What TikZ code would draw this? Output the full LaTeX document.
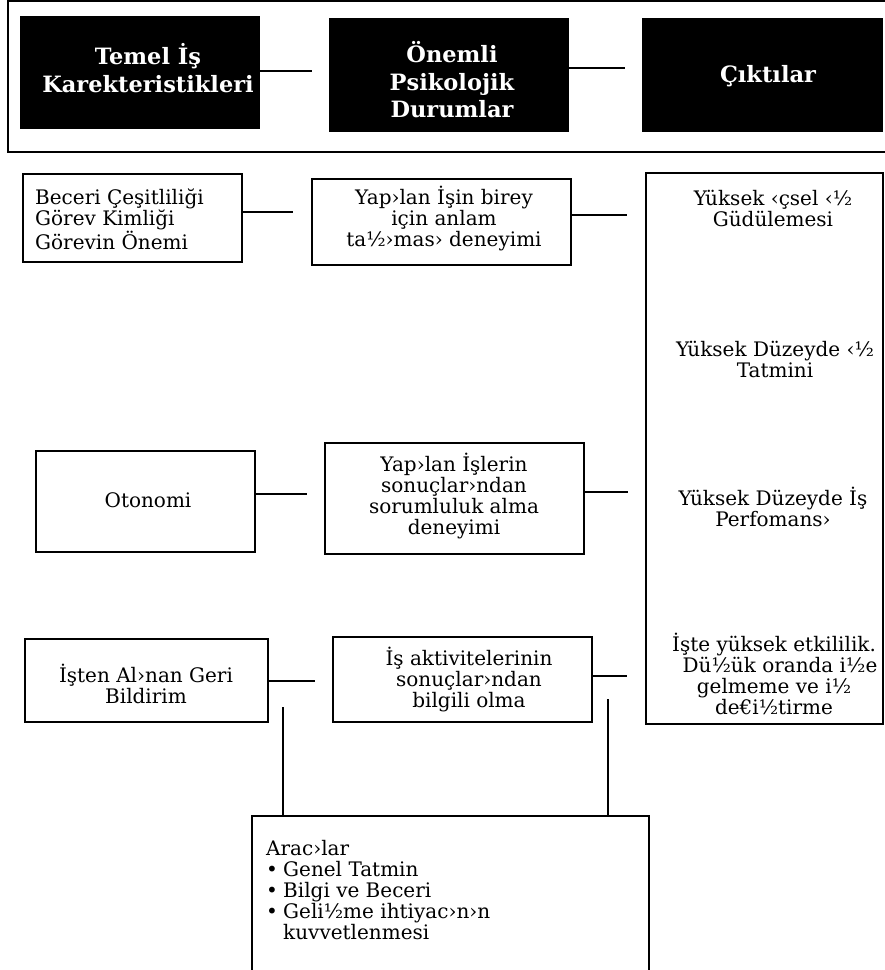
\documentclass[tikz,border=0pt]{standalone}
\usepackage{fontspec}
\setmainfont{DejaVu Serif}
\begin{document}
\begin{tikzpicture}[x=1pt,y=-1pt,
  bx/.style={draw,line width=2.5pt,inner sep=0pt},
  hbx/.style={fill=black,draw=none,inner sep=0pt},
  htxt/.style={text=white,align=center,inner sep=0pt,font=\fontsize{22.5}{27.5}\selectfont\bfseries},
  txt/.style={align=center,inner sep=0pt,font=\fontsize{20}{21}\selectfont},
  ltxt/.style={align=left,inner sep=0pt,font=\fontsize{20}{21}\selectfont},
  conn/.style={line width=2.2pt}]
\useasboundingbox (0,0) rectangle (885,970);
% header frame
\draw[line width=2.2pt] (900,1) -- (8,1) -- (8,152) -- (900,152);
% header boxes
\node[hbx,minimum width=240pt,minimum height=113pt] (h1) at (140,72.5) {};
\node[hbx,minimum width=240pt,minimum height=114pt] (h2) at (449,75) {};
\node[hbx,minimum width=241pt,minimum height=114pt] (h3) at (762.5,75) {};
\node[htxt] (t1) at (148,68) {Temel İş\\Karekteristikleri};
\node[htxt] (t2) at (452,80) {Önemli\\Psikolojik\\Durumlar};
\node[htxt] (t3) at (768,76) {Çıktılar};
\coordinate (e1) at (312,71);
\coordinate (e2) at (625,68);
\draw[conn] (h1.east |- e1) -- (e1);
\draw[conn] (h2.east |- e2) -- (e2);
% boxes
\node[bx,minimum width=219pt,minimum height=88pt] (A) at (132.5,218) {};
\node[bx,minimum width=259pt,minimum height=86pt] (B) at (441.5,222) {};
\node[bx,minimum width=237pt,minimum height=551pt] (R) at (764.5,448.5) {};
\node[bx,minimum width=219pt,minimum height=101pt] (O) at (145.5,501.5) {};
\node[bx,minimum width=259pt,minimum height=111pt] (M2) at (454.5,498.5) {};
\node[bx,minimum width=243pt,minimum height=83pt] (F) at (146.5,680.5) {};
\node[bx,minimum width=259pt,minimum height=85pt] (M3) at (462.5,679.5) {};
\node[bx,minimum width=397pt,minimum height=184pt] (Bot) at (450.5,908) {};
% texts
\node[ltxt,anchor=west] (tA) at (35,219) {Beceri Çeşitliliği\\Görev Kimliği\\Görevin Önemi};
\node[txt] (tB) at (444,219) {Yap›lan İşin birey\\için anlam\\ta½›mas› deneyimi};
\node[txt] (r1) at (773,208) {Yüksek ‹çsel ‹½\\Güdülemesi};
\node[txt] (r2) at (775,359) {Yüksek Düzeyde ‹½\\Tatmini};
\node[txt] (r3) at (773,507) {Yüksek Düzeyde İş\\Perfomans›};
\node[txt] (r4) at (774,674) {İşte yüksek etkililik.\\\hspace*{0.6em}Dü½ük oranda i½e\\gelmeme ve i½\\de€i½tirme};
\node[txt] (tO) at (148,500) {Otonomi};
\node[txt] (tM2) at (454,496) {Yap›lan İşlerin\\sonuçlar›ndan\\sorumluluk alma\\deneyimi};
\node[txt] (tF) at (146,684) {İşten Al›nan Geri\\Bildirim};
\node[txt] (tM3) at (469,680) {İş aktivitelerinin\\sonuçlar›ndan\\bilgili olma};
\node[ltxt,anchor=west] (tBot) at (266,890) {Arac›lar\\\makebox[17pt][l]{•}Genel Tatmin\\\makebox[17pt][l]{•}Bilgi ve Beceri\\\makebox[17pt][l]{•}Geli½me ihtiyac›n›n\\\hspace*{17pt}kuvvetlenmesi};
% connectors
\coordinate (e3) at (293,212);
\coordinate (e4) at (627,215);
\coordinate (e5) at (307,494);
\coordinate (e6) at (628,492);
\coordinate (e7) at (315,681);
\coordinate (e8) at (627,676);
\coordinate (e9) at (283,707);
\coordinate (e10) at (608,699);
\draw[conn] (A.east |- e3) -- (e3);
\draw[conn] (B.east |- e4) -- (e4);
\draw[conn] (O.east |- e5) -- (e5);
\draw[conn] (M2.east |- e6) -- (e6);
\draw[conn] (F.east |- e7) -- (e7);
\draw[conn] (M3.east |- e8) -- (e8);
\draw[conn] (e9) -- (e9 |- Bot.north);
\draw[conn] (e10) -- (e10 |- Bot.north);
\end{tikzpicture}
\end{document}
